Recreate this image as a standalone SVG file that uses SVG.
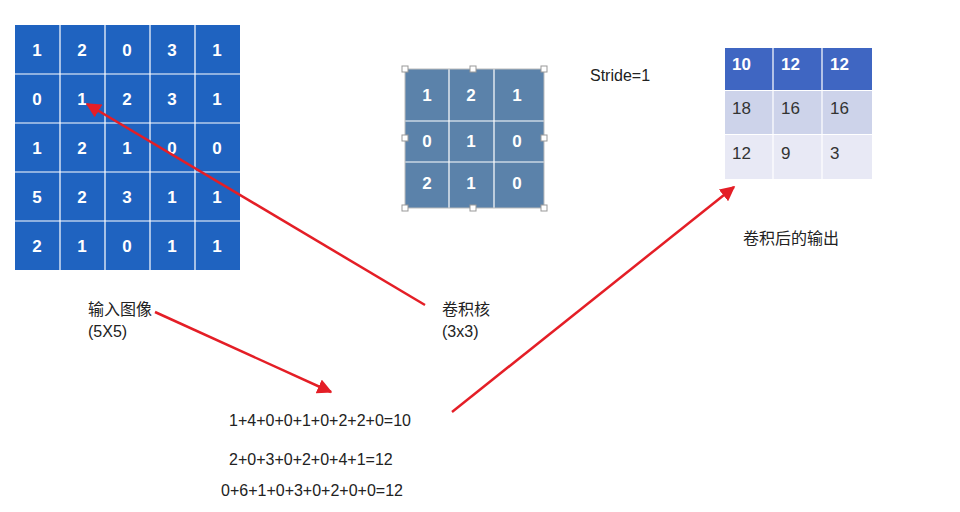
<svg xmlns="http://www.w3.org/2000/svg" width="960" height="512" viewBox="0 0 960 512">
<style>
.t{font-family:"Liberation Sans","Noto Sans CJK SC",sans-serif}
.b{font-weight:bold;fill:#fff;font-size:17px;text-anchor:middle}
.o{font-size:17px;fill:#333}
.l{font-size:16px;fill:#222}
.g{stroke:#fff;stroke-width:1.2}
.a{stroke:#e41e26;stroke-width:2.5;fill:none;marker-end:url(#ah)}
.h{fill:#fff;stroke:#999;stroke-width:1}
</style>
<defs><marker id="ah" viewBox="0 0 10 10" refX="9" refY="5" markerWidth="6" markerHeight="6" orient="auto"><path d="M0,0L10,5L0,10z" fill="#e41e26"/></marker></defs>
<rect width="960" height="512" fill="#fff"/>
<g id="input" class="t">
<rect x="15" y="25" width="225" height="245" fill="#1f63c0"/>
<path class="g" d="M60,25V270M105,25V270M150,25V270M195,25V270M15,74H240M15,123H240M15,172H240M15,221H240"/>
<g class="b">
<text x="37" y="56">1</text><text x="82" y="56">2</text><text x="127" y="56">0</text><text x="172" y="56">3</text><text x="217" y="56">1</text>
<text x="37" y="105">0</text><text x="82" y="105">1</text><text x="127" y="105">2</text><text x="172" y="105">3</text><text x="217" y="105">1</text>
<text x="37" y="154">1</text><text x="82" y="154">2</text><text x="127" y="154">1</text><text x="172" y="154">0</text><text x="217" y="154">0</text>
<text x="37" y="203">5</text><text x="82" y="203">2</text><text x="127" y="203">3</text><text x="172" y="203">1</text><text x="217" y="203">1</text>
<text x="37" y="252">2</text><text x="82" y="252">1</text><text x="127" y="252">0</text><text x="172" y="252">1</text><text x="217" y="252">1</text>
</g>
<text class="l" x="88" y="315">输入图像</text><text class="l" x="88" y="337">(5X5)</text>
</g>
<g id="kernel" class="t">
<rect x="405" y="69" width="139" height="139" fill="#5b82aa"/>
<path class="g" d="M449,69V208M494,69V208M405,121H544M405,162H544"/>
<rect x="405" y="69" width="139" height="139" fill="none" stroke="#bbb" stroke-width="1"/>
<g class="h"><rect x="402" y="66" width="6" height="6"/><rect x="470" y="66" width="6" height="6"/><rect x="541" y="66" width="6" height="6"/><rect x="402" y="135" width="6" height="6"/><rect x="541" y="135" width="6" height="6"/><rect x="402" y="205" width="6" height="6"/><rect x="470" y="205" width="6" height="6"/><rect x="541" y="205" width="6" height="6"/></g>
<g class="b">
<text x="427" y="101">1</text><text x="471" y="101">2</text><text x="517" y="101">1</text>
<text x="427" y="147">0</text><text x="471" y="147">1</text><text x="517" y="147">0</text>
<text x="427" y="189">2</text><text x="471" y="189">1</text><text x="517" y="189">0</text>
</g>
<text class="l" x="442" y="315">卷积核</text><text class="l" x="442" y="337">(3x3)</text>
</g>
<g id="stride" class="t"><text class="l" x="590" y="81">Stride=1</text></g>
<g id="output" class="t">
<rect x="725" y="48" width="147" height="42" fill="#3f66c2"/>
<rect x="725" y="91" width="147" height="43" fill="#cdd3ea"/>
<rect x="725" y="135" width="147" height="44" fill="#e8e9f5"/>
<path class="g" stroke-width="2" d="M773,48V179M822,48V179M725,90.5H872M725,134.5H872"/>
<g font-size="17px" font-weight="bold" fill="#fff"><text x="732" y="70">10</text><text x="781" y="70">12</text><text x="830" y="70">12</text></g>
<g class="o"><text x="732" y="114">18</text><text x="781" y="114">16</text><text x="830" y="114">16</text>
<text x="732" y="159">12</text><text x="781" y="159">9</text><text x="830" y="159">3</text></g>
<text class="l" x="743" y="244">卷积后的输出</text>
</g>
<g id="formulas" class="t">
<text class="l" x="229" y="426">1+4+0+0+1+0+2+2+0=10</text>
<text class="l" x="229" y="465">2+0+3+0+2+0+4+1=12</text>
<text class="l" x="221" y="496">0+6+1+0+3+0+2+0+0=12</text>
</g>
<g id="connectors">
<line class="a" x1="425" y1="305" x2="87" y2="104"/>
<line class="a" x1="155" y1="312" x2="331" y2="392"/>
<line class="a" x1="452" y1="412" x2="734" y2="187"/>
</g>
</svg>
